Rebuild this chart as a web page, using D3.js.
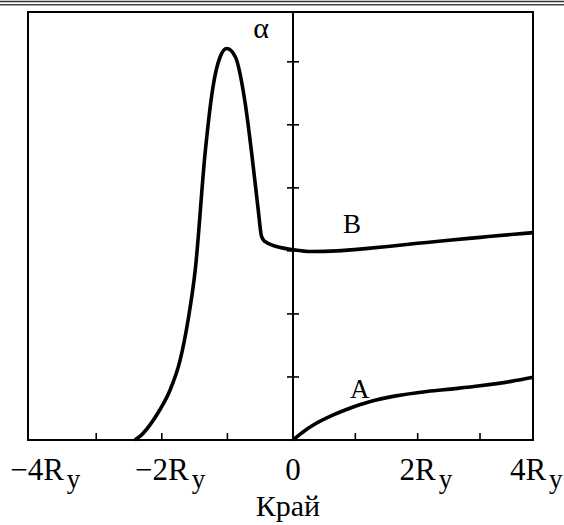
<!DOCTYPE html>
<html>
<head>
<meta charset="utf-8">
<script src="https://cdn.jsdelivr.net/npm/d3@7"></script>
<style>
  html, body { margin: 0; padding: 0; background: #fff; }
  svg { display: block; }
  text { font-family: "Liberation Serif", "Times New Roman", serif; fill: #000; }
</style>
</head>
<body>
<svg id="chart" width="564" height="525"></svg>
<script>
// Curve B: x in units of R_y, alpha in tick units
const curveBx = [-2.41, -2.33, -2.18, -2.03, -1.875, -1.72, -1.60, -1.49, -1.34, -1.22, -1.11, -1.01,
                 -0.88, -0.73, -0.63, -0.53, -0.48, -0.43, -0.25, 0, 0.3, 0.7, 1.2, 1.56, 2.0, 2.5, 3.0, 3.5, 3.85];
const curveBy = [0, 0.06, 0.24, 0.48, 0.79, 1.27, 1.90, 2.70, 4.55, 5.60, 6.08, 6.21,
                 6.08, 5.35, 4.55, 3.65, 3.23, 3.15, 3.07, 3.02, 2.99, 3.0, 3.04, 3.075, 3.12, 3.17, 3.215, 3.26, 3.29];
// Curve A
const curveAx = [0, 0.15, 0.326, 0.646, 0.9, 1.2, 1.65, 2.15, 2.6, 3.0, 3.5, 3.85];
const curveAy = [0, 0.12, 0.238, 0.397, 0.50, 0.60, 0.70, 0.77, 0.815, 0.86, 0.93, 0.995];

const xTicks = [-3, -2, -1, 1, 2, 3];
const yTicks = [1, 2, 3, 4, 5, 6];
const xLabelValues = [-4, -2, 0, 2, 4];
const xLabelMain = ["\u22124R", "\u22122R", "0", "2R", "4R"];
const xLabelSub = ["y", "y", "", "y", "y"];
const curveNames = ["B", "A"];
const axisTitle = "Край";
const yTitle = "\u03b1";

const svg = d3.select("#chart");

const frame = { left: 28, right: 533, top: 12, bottom: 440 };
const x = d3.scaleLinear().domain([-4.04, 0, 3.85]).range([frame.left, 293, frame.right]);
const y = d3.scaleLinear().domain([0, 6.79]).range([frame.bottom, frame.top]);

// double rule across the top of the page
svg.append("line").attr("x1", 0).attr("x2", 564).attr("y1", 1.5).attr("y2", 1.5)
  .attr("stroke", "#333").attr("stroke-width", 1.5);
svg.append("line").attr("x1", 0).attr("x2", 564).attr("y1", 4.8).attr("y2", 4.8)
  .attr("stroke", "#444").attr("stroke-width", 1.6);

// plot frame
svg.append("rect")
  .attr("x", frame.left).attr("y", frame.top)
  .attr("width", frame.right - frame.left).attr("height", frame.bottom - frame.top)
  .attr("fill", "none").attr("stroke", "#000").attr("stroke-width", 2);

// bottom ticks pointing inward
svg.append("g").selectAll("line").data(xTicks).join("line")
  .attr("x1", d => x(d)).attr("x2", d => x(d))
  .attr("y1", frame.bottom).attr("y2", frame.bottom - 7)
  .attr("stroke", "#000").attr("stroke-width", 1.6);

// vertical axis at zero with crossing ticks
svg.append("line").attr("x1", x(0)).attr("x2", x(0))
  .attr("y1", frame.top).attr("y2", frame.bottom)
  .attr("stroke", "#000").attr("stroke-width", 2);
svg.append("g").selectAll("line").data(yTicks).join("line")
  .attr("x1", x(0) - 6).attr("x2", x(0) + 6)
  .attr("y1", d => y(d)).attr("y2", d => y(d))
  .attr("stroke", "#000").attr("stroke-width", 1.6);

// curves
const line = d3.line().x(d => x(d[0])).y(d => y(d[1])).curve(d3.curveMonotoneX);
const dataB = curveBx.map((v, i) => [v, curveBy[i]]);
const dataA = curveAx.map((v, i) => [v, curveAy[i]]);
svg.append("path").datum(dataB).attr("d", line)
  .attr("fill", "none").attr("stroke", "#000").attr("stroke-width", 3.6)
  .attr("stroke-linejoin", "round");
svg.append("path").datum(dataA).attr("d", line.curve(d3.curveCatmullRom.alpha(0.5)))
  .attr("fill", "none").attr("stroke", "#000").attr("stroke-width", 3.6)
  .attr("stroke-linejoin", "round");

// curve names
svg.append("text").attr("x", 343).attr("y", 233).attr("font-size", 27).text(curveNames[0]);
svg.append("text").attr("x", 350).attr("y", 398).attr("font-size", 27).text(curveNames[1]);

// alpha
svg.append("text").attr("x", 261).attr("y", 38).attr("text-anchor", "middle")
  .attr("font-size", 30).text(yTitle);

// x tick labels: main part centred on the tick, subscript after it
const labelBaseline = 480;
xLabelValues.forEach((v, i) => {
  let cx = Math.max(frame.left + 9, Math.min(frame.right - 5, x(v)));
  const t = svg.append("text").attr("y", labelBaseline).attr("font-size", 31);
  t.append("tspan").text(xLabelMain[i]);
  const w = t.node().getComputedTextLength();
  t.attr("x", cx - w / 2);
  if (xLabelSub[i]) {
    t.append("tspan").attr("dx", 3).attr("dy", 8).attr("font-size", 27).text(xLabelSub[i]);
  }
});

// axis title
svg.append("text").attr("x", 288).attr("y", 516).attr("text-anchor", "middle")
  .attr("font-size", 30).text(axisTitle);
</script>
</body>
</html>
